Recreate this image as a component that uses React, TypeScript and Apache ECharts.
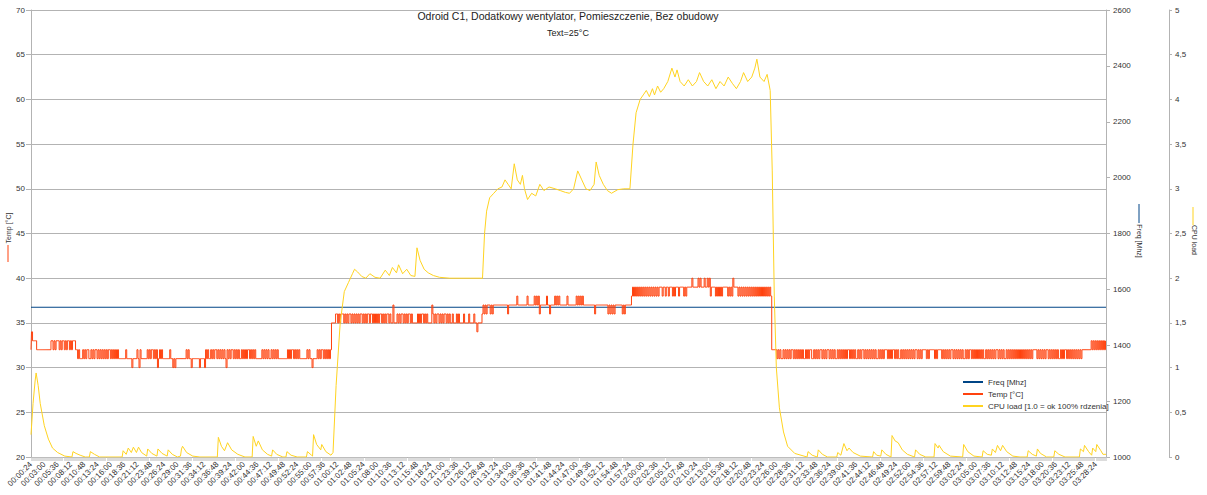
import React, { useEffect, useRef } from "react";
import * as echarts from "echarts";

const TITLE = "Odroid C1, Dodatkowy wentylator, Pomieszczenie, Bez obudowy";
const SUBTITLE = "Text=25°C";
const NAME_FREQ = "Freq [Mhz]";
const NAME_TEMP = "Temp [°C]";
const NAME_CPU = "CPU load [1.0 = ok 100% rdzenia]";
const AXIS_NAME_CPU = "CPU load";

// sample clock: first sample 00:00:24, one sample every 12 s
const START_SECONDS = 24;
const STEP_SECONDS = 12;
const SAMPLE_COUNT = 1051;
const LABEL_EVERY = 13;

// axes
const TEMP_AXIS = [20, 70, 5];
const FREQ_AXIS = [1000, 2600, 200];
const CPU_AXIS = [0, 5, 0.5];

// frequency (constant)
const FREQ_POINTS: [number, number][] = [
  [0, 1536],
  [1050, 1536],
];

// temperature, one char per sample: hex digit + 30 °C ("a" = 40); "d*n" = n samples of d
const TEMP_SEGMENTS: [number, string][] = [
  [0, "24 3*4 2*14 33232 33323 23323 23323 23332 2"],
  [46, "12111 21212 21121 21221 21212 12121 22121 21212 1*7 2 1*5 0 1*4 21021 1*5 212122121201212 1*7 2 11010 1*10 2121 10 1*7 0 1*4 021211 212122121212121 0 21212 21212 12112 12121 22121 212 1*6 2121212112121212 1*9 2121221212121 1*6 212110 1*4 21212212121212"],
  [294, "5*4 6 65656 66565 65665 65656 56566 56565 66566 56565 65665 65656 6565 5 7 555 6565665656566565 5*4 6565665656 5*4 7 65656656565665656 55655 56565 55565 55565 55565 5 4 5*4"],
  [441, "67676 777 6767 7*13 6 7*8 8 7*9 8 7*6 87878 6 7*6 8 77 6 7777 878787 7*6 8 7*8 8787878 7*11 6 7*12 676 7 676 7*7 6767 7*5"],
  [587, "89898 98989 89898 98989 89898 989 9989 9899 8999 8989 9989 9998 9899 999 a 9*5 a9a9 99 a9 9 a9a 89 999 89898989 9999 89898 a 9999 89898 98989 89898 98989 89898 98989 898"],
  [724, "2222 212121121212 121221212121 212112121221 121212122121 212212121211 212121212122 121212112121 221212121212 121121212122 212121221212 112121212121 212122121212 222 1212 2222 121 2222 121212121221 212121212112 121221212121 212121121212 121212212121 211212121212 121212121212 12121 2222 121212121221 212121212112 121221212121 212121212 2*8"],
  [1036, "323232323232323"],
];
const TEMP_BASE = 30;

// CPU load, [sample index, load]
const CPU_POINTS: [number, number][] = [
  [0,0.25],[2,0.6],[4,0.85],[5,0.94],[7,0.8],[9,0.6],[13,0.35],[17,0.2],[21,0.1],[26,0.05],[33,0.01],[40,0],[41,0.06],[44,0.04],[48,0.02],[53,0],[57,0],[58,0.06],[62,0.03],[67,0],[89,0],[90,0.07],[93,0.03],[95,0.1],[98,0.05],[100,0.11],[103,0.05],[105,0.11],[108,0.05],[113,0.01],[114,0.09],[118,0.04],[123,0.01],[124,0.09],[128,0.04],[133,0.01],[134,0.08],[138,0.03],[143,0],[146,0.01],[147,0.09],[148,0.12],[152,0.05],[158,0.01],[165,0],[182,0],[183,0.22],[186,0.12],[189,0.07],[192,0.16],[196,0.08],[202,0.03],[209,0],[216,0],[217,0.23],[220,0.12],[222,0.18],[226,0.08],[231,0.03],[235,0.01],[236,0.08],[240,0.03],[246,0],[249,0],[250,0.06],[254,0.02],[260,0],[269,0],[270,0.06],[274,0.02],[275,0.01],[276,0.25],[279,0.14],[283,0.08],[284,0.14],[288,0.06],[293,0.02],[295,0.05],
  [298,0.8],[302,1.5],[306,1.85],[310,1.95],[314,2.05],[316,2.1],[319,2.07],[323,2.02],[327,2.0],[331,2.05],[336,2.01],[341,2.0],[346,2.09],[350,2.03],[353,2.12],[357,2.06],[359,2.15],[363,2.05],[367,2.1],[371,2.03],[375,2.02],[377,2.34],[380,2.2],[384,2.1],[388,2.06],[393,2.03],[399,2.01],[409,2.0],[419,2.0],[429,2.0],[441,2.0],
  [443,2.5],[445,2.75],[448,2.9],[452,2.95],[456,3.0],[460,3.02],[463,3.1],[466,3.05],[469,3.0],[472,3.28],[475,3.1],[478,3.05],[480,3.15],[482,3.0],[485,2.88],[489,2.95],[493,2.92],[497,3.05],[501,2.98],[506,3.02],[512,3.0],[517,2.98],[522,2.96],[526,2.95],[530,3.0],[534,3.2],[538,3.1],[542,3.0],[546,2.98],[550,3.05],[552,3.3],[555,3.15],[559,3.05],[563,2.98],[567,2.95],[573,2.99],[579,3.0],[585,3.0],
  [588,3.5],[591,3.85],[595,4.0],[598,4.05],[601,4.1],[604,4.03],[607,4.12],[609,4.05],[612,4.15],[615,4.08],[618,4.12],[622,4.2],[626,4.35],[629,4.25],[631,4.33],[634,4.2],[638,4.15],[642,4.22],[646,4.15],[650,4.2],[653,4.3],[657,4.2],[661,4.15],[665,4.22],[669,4.12],[673,4.2],[677,4.15],[681,4.25],[685,4.18],[689,4.12],[693,4.2],[696,4.3],[700,4.2],[704,4.25],[707,4.35],[709,4.45],[712,4.25],[716,4.2],[719,4.28],[722,4.1],
  [724,3.2],[726,1.8],[728,1.0],[731,0.55],[735,0.28],[739,0.12],[746,0.04],[755,0.01],[758,0],[759,0.06],[763,0.02],[768,0],[769,0.08],[773,0.03],[778,0],[787,0],[788,0.05],[791,0.02],[794,0.15],[797,0.07],[799,0.1],[803,0.05],[810,0.01],[822,0],[823,0.06],[826,0.02],[830,0.01],[831,0.08],[835,0.03],[840,0],[841,0.24],[844,0.18],[847,0.16],[851,0.08],[856,0.03],[863,0],[864,0.08],[868,0.03],[874,0],[882,0],[883,0.15],[886,0.1],[887,0.13],[891,0.06],[898,0.01],[910,0],[911,0.14],[915,0.06],[921,0.01],[929,0],[930,0.07],[934,0.03],[938,0.02],[939,0.09],[942,0.05],[944,0.13],[947,0.07],[949,0.13],[953,0.06],[959,0.01],[966,0],[973,0],[974,0.07],[978,0.03],[982,0.01],[983,0.09],[986,0.04],[992,0],[999,0],[1000,0.07],[1004,0.03],[1010,0],[1024,0],[1025,0.09],[1028,0.06],[1029,0.13],[1033,0.06],[1036,0.02],[1037,0.1],[1040,0.06],[1041,0.14],[1045,0.07],[1047,0.03],[1050,0.03],
];

const COLOR_FREQ = "#004586";
const COLOR_TEMP = "#ff420e";
const COLOR_CPU = "#ffd320";
const FONT = "Liberation Sans, Arial, sans-serif";

function pad(n: number) {
  return n < 10 ? "0" + n : String(n);
}

function buildCategories(): string[] {
  const out: string[] = [];
  for (let i = 0; i < SAMPLE_COUNT; i++) {
    const s = START_SECONDS + i * STEP_SECONDS;
    out.push(pad(Math.floor(s / 3600)) + ":" + pad(Math.floor((s % 3600) / 60)) + ":" + pad(s % 60));
  }
  return out;
}

function decodeTemps(): (number | null)[] {
  const out: (number | null)[] = new Array(SAMPLE_COUNT).fill(null);
  for (const [start, text] of TEMP_SEGMENTS) {
    let idx = start;
    for (const tok of text.split(" ")) {
      if (!tok) continue;
      if (tok.includes("*")) {
        const [c, n] = tok.split("*");
        for (let k = 0; k < Number(n); k++) out[idx++] = TEMP_BASE + parseInt(c, 16);
      } else {
        for (const c of tok) out[idx++] = TEMP_BASE + parseInt(c, 16);
      }
    }
  }
  return out;
}

export default function App() {
  const ref = useRef<HTMLDivElement>(null);
  useEffect(() => {
    if (!ref.current) return;
    const chart = echarts.init(ref.current, undefined, { renderer: "svg" });
    const categories = buildCategories();
    const temps = decodeTemps();
    const axisGrey = "#b3b3b3";
    const labelColor = "#333333";
    const plain = (v: number) => String(v);
    const option: any = {
      animation: false,
      textStyle: { fontFamily: FONT },
      grid: { left: 31, right: 101, top: 10, bottom: 38, containLabel: false },
      legend: {
        orient: "vertical",
        left: 958,
        top: 372,
        icon: "rect",
        itemWidth: 20,
        itemHeight: 2,
        itemGap: 2,
        textStyle: { fontSize: 8, color: labelColor, lineHeight: 10, fontFamily: FONT },
        data: [NAME_FREQ, NAME_TEMP, NAME_CPU],
      },
      xAxis: {
        type: "category",
        boundaryGap: false,
        data: categories,
        axisLine: { lineStyle: { color: axisGrey, width: 1 } },
        axisTick: { show: true, interval: 0, length: 4, lineStyle: { color: "#c4c4c4", width: 0.6 } },
        axisLabel: {
          interval: LABEL_EVERY - 1,
          rotate: 45,
          fontSize: 8,
          color: labelColor,
          margin: 6,
          fontFamily: FONT,
        },
        splitLine: { show: false },
      },
      yAxis: [
        {
          type: "value",
          position: "left",
          min: TEMP_AXIS[0],
          max: TEMP_AXIS[1],
          interval: TEMP_AXIS[2],
          axisLine: { show: true, lineStyle: { color: axisGrey } },
          axisTick: { show: true, length: 5, lineStyle: { color: axisGrey } },
          axisLabel: { fontSize: 8, color: labelColor, margin: 6, fontFamily: FONT, formatter: plain },
          splitLine: { show: true, lineStyle: { color: axisGrey, width: 1 } },
        },
        {
          type: "value",
          position: "right",
          min: FREQ_AXIS[0],
          max: FREQ_AXIS[1],
          interval: FREQ_AXIS[2],
          axisLine: { show: true, lineStyle: { color: axisGrey } },
          axisTick: { show: true, length: 4, lineStyle: { color: axisGrey } },
          axisLabel: { fontSize: 8, color: labelColor, margin: 7, fontFamily: FONT, formatter: plain },
          splitLine: { show: false },
        },
        {
          type: "value",
          position: "right",
          offset: 63,
          min: CPU_AXIS[0],
          max: CPU_AXIS[1],
          interval: CPU_AXIS[2],
          axisLine: { show: true, lineStyle: { color: axisGrey } },
          axisTick: { show: true, length: 3, lineStyle: { color: axisGrey } },
          axisLabel: {
            fontSize: 8,
            color: labelColor,
            margin: 6,
            fontFamily: FONT,
            formatter: (v: number) => String(v).replace(".", ","),
          },
          splitLine: { show: false },
        },
      ],
      series: [
        {
          name: NAME_FREQ,
          type: "line",
          yAxisIndex: 1,
          data: FREQ_POINTS,
          showSymbol: false,
          symbol: "none",
          lineStyle: { color: COLOR_FREQ, width: 1.2 },
          itemStyle: { color: COLOR_FREQ },
        },
        {
          name: NAME_TEMP,
          type: "line",
          yAxisIndex: 0,
          step: "middle",
          data: temps,
          showSymbol: false,
          symbol: "none",
          lineStyle: { color: COLOR_TEMP, width: 1 },
          itemStyle: { color: COLOR_TEMP },
        },
        {
          name: NAME_CPU,
          type: "line",
          yAxisIndex: 2,
          data: CPU_POINTS,
          showSymbol: false,
          symbol: "none",
          lineStyle: { color: COLOR_CPU, width: 1 },
          itemStyle: { color: COLOR_CPU },
        },
      ],
      graphic: [
        {
          type: "text",
          x: 568,
          y: 16,
          style: { text: TITLE, fontSize: 10.5, fontFamily: FONT, fill: "#222", align: "center", verticalAlign: "middle" },
        },
        {
          type: "text",
          x: 568,
          y: 33,
          style: { text: SUBTITLE, fontSize: 9, fontFamily: FONT, fill: "#222", align: "center", verticalAlign: "middle" },
        },
        {
          type: "text",
          x: 8,
          y: 228,
          rotation: Math.PI / 2,
          style: { text: NAME_TEMP, fontSize: 7, fontFamily: FONT, fill: labelColor, align: "center", verticalAlign: "middle" },
        },
        { type: "line", shape: { x1: 8, y1: 245, x2: 8, y2: 262 }, style: { stroke: COLOR_TEMP, lineWidth: 1 } },
        {
          type: "text",
          x: 1139,
          y: 241,
          rotation: -Math.PI / 2,
          style: { text: NAME_FREQ, fontSize: 7, fontFamily: FONT, fill: labelColor, align: "center", verticalAlign: "middle" },
        },
        { type: "line", shape: { x1: 1139, y1: 204, x2: 1139, y2: 223 }, style: { stroke: COLOR_FREQ, lineWidth: 1 } },
        {
          type: "text",
          x: 1194,
          y: 240,
          rotation: -Math.PI / 2,
          style: { text: AXIS_NAME_CPU, fontSize: 7, fontFamily: FONT, fill: labelColor, align: "center", verticalAlign: "middle" },
        },
        { type: "line", shape: { x1: 1193, y1: 207, x2: 1193, y2: 225 }, style: { stroke: COLOR_CPU, lineWidth: 1 } },
      ],
    };
    chart.setOption(option);
    return () => chart.dispose();
  }, []);
  return <div ref={ref} style={{ position: "absolute", left: 0, top: 0, width: 1207, height: 495 }} />;
}
